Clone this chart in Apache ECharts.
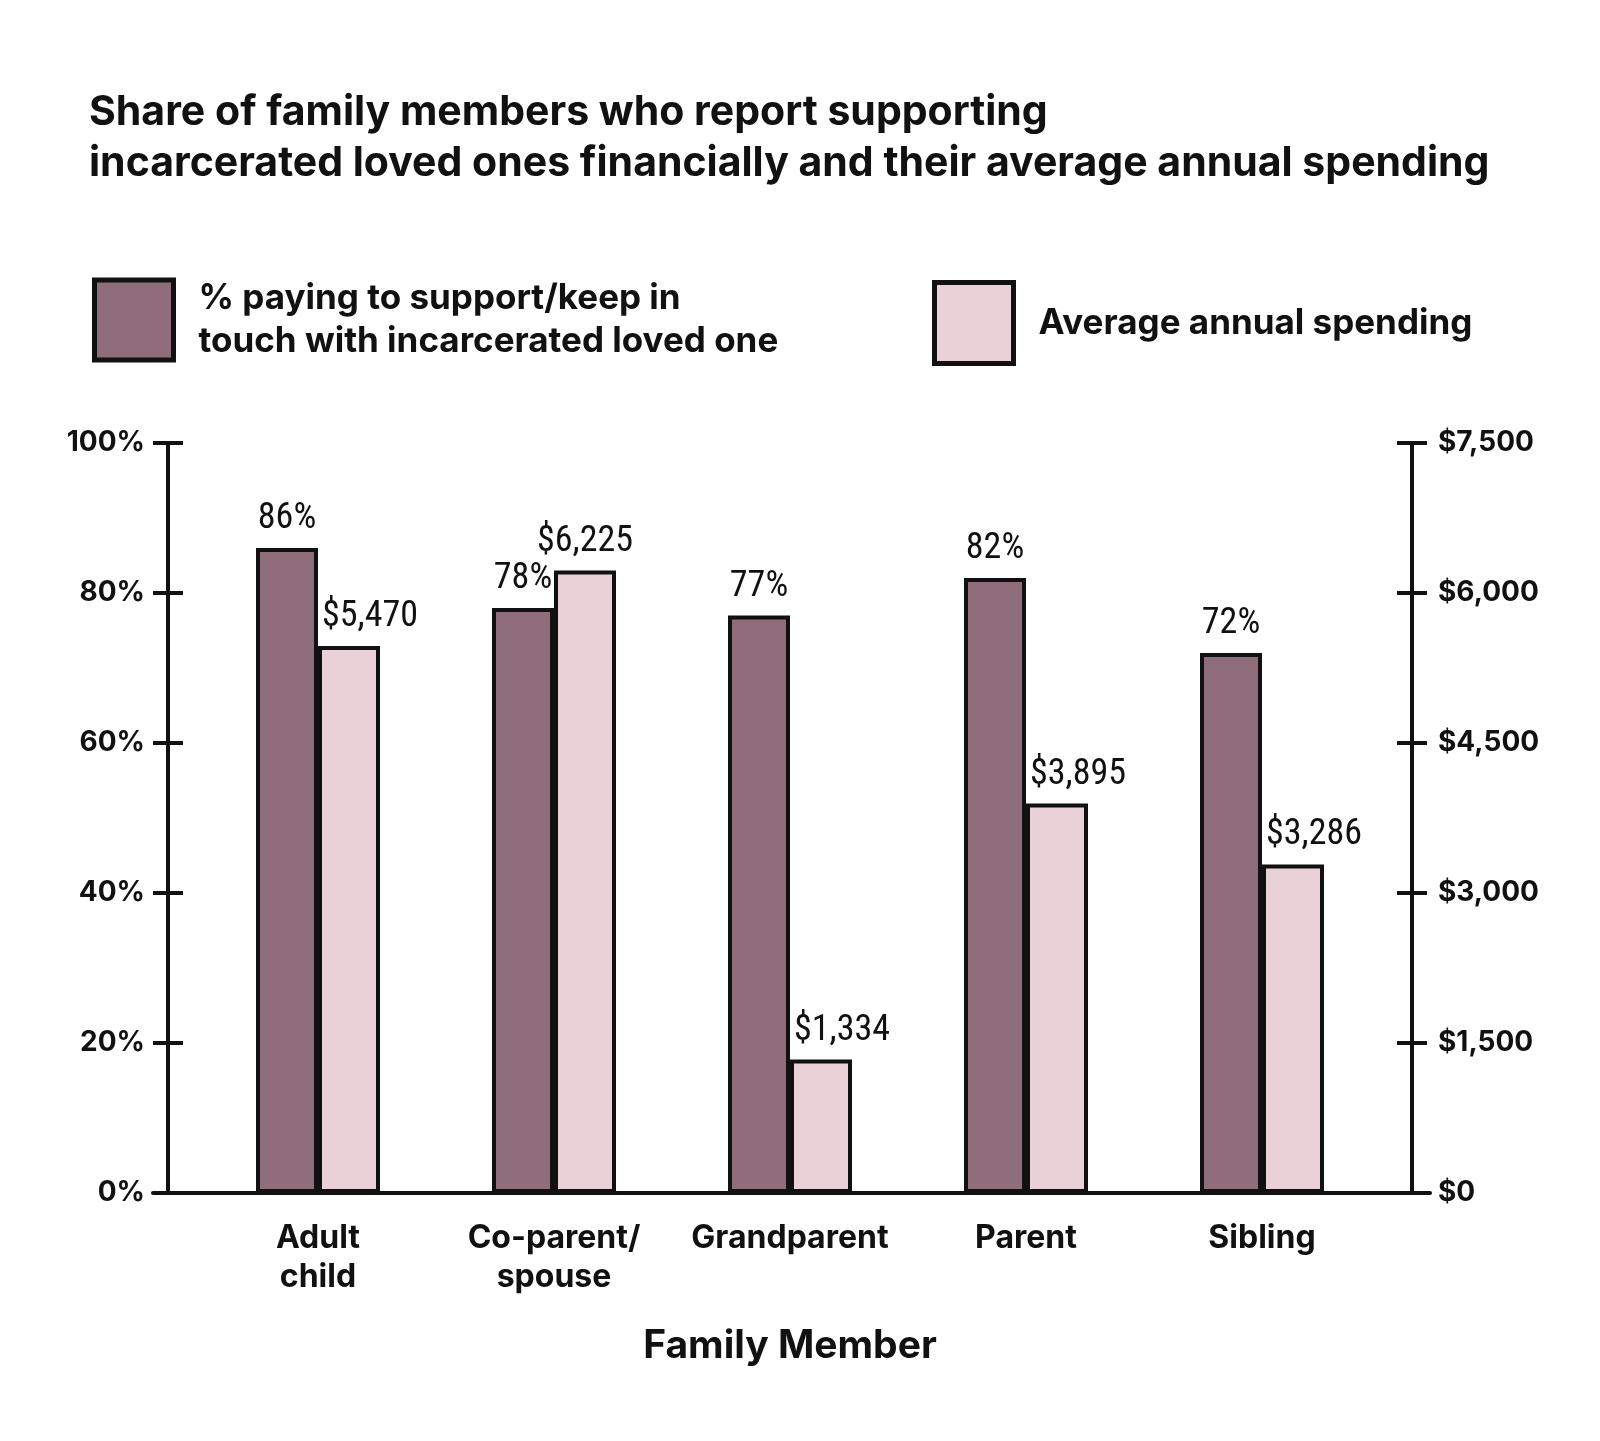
<!DOCTYPE html>
<html>
<head>
<meta charset="utf-8">
<script src="https://cdn.jsdelivr.net/npm/echarts@6/dist/echarts.min.js"></script>
<style>
html,body{margin:0;padding:0;background:#fff;}
#chart{width:1600px;height:1441px;}
</style>
</head>
<body>
<div id="chart"></div>
<script>
const titleText = 'Share of family members who report supporting\nincarcerated loved ones financially and their average annual spending';
const categories = ['Adult\nchild', 'Co-parent/\nspouse', 'Grandparent', 'Parent', 'Sibling'];
const shareName = '% paying to support/keep in\ntouch with incarcerated loved one';
const spendName = 'Average annual spending';
const sharePaying = [86, 78, 77, 82, 72];
const avgSpending = [5470, 6225, 1334, 3895, 3286];
const pctTicks = [0, 100, 20];
const dollarTicks = [0, 7500, 1500];

const MAIN_FONT = "Inter, Roboto, 'Noto Sans', sans-serif";
const NARROW_FONT = "'Roboto Condensed', 'Noto Sans Condensed', 'Liberation Sans Narrow', 'DejaVu Sans Condensed', sans-serif";
const DARK = '#906d7a';
const LIGHT = '#e9d1d7';

function money(v) { return '$' + v.toLocaleString('en-US'); }

const chart = echarts.init(document.getElementById('chart'));

const axisLabelStyle = { fontFamily: MAIN_FONT, fontWeight: 'bold', fontSize: 28, color: '#111' };
const lineStyle = { color: '#111', width: 4 };

// spending labels sit slightly right of their bars, except where the taller light bar leaves room
const spendData = avgSpending.map((v, i) =>
  v > sharePaying[i] / 100 * dollarTicks[1] ? v : { value: v, label: { offset: [21, 0] } });

chart.setOption({
  backgroundColor: '#fff',
  animation: false,
  title: {
    text: titleText,
    left: 84, top: 82,
    textStyle: { fontFamily: MAIN_FONT, fontWeight: 'bold', fontSize: 41, lineHeight: 51, color: '#111' }
  },
  legend: [
    {
      data: [shareName], left: 92, top: 277, padding: 0, itemWidth: 79, itemHeight: 80, icon: 'rect',
      itemStyle: { borderColor: '#111', borderWidth: 5 },
      textStyle: { fontFamily: MAIN_FONT, fontWeight: 'bold', fontSize: 35, lineHeight: 43, color: '#111', padding: [0, 0, 0, 20] }
    },
    {
      data: [spendName], left: 932, top: 280, padding: 0, itemWidth: 79, itemHeight: 81, icon: 'rect',
      itemStyle: { borderColor: '#111', borderWidth: 5 },
      textStyle: { fontFamily: MAIN_FONT, fontWeight: 'bold', fontSize: 35, lineHeight: 43, color: '#111', padding: [0, 0, 0, 20] }
    }
  ],
  grid: [
    { left: 200, right: 220, top: 443, bottom: 248 },
    { left: 153, right: 170, top: 443, bottom: 248 }
  ],
  xAxis: [
    {
      type: 'category', gridIndex: 0, data: categories,
      axisLine: { show: false }, axisTick: { show: false },
      axisLabel: { interval: 0, fontFamily: MAIN_FONT, fontWeight: 'bold', fontSize: 32, lineHeight: 39, color: '#111', margin: 26 },
      name: 'Family Member', nameLocation: 'middle', nameGap: 134,
      nameTextStyle: { fontFamily: MAIN_FONT, fontWeight: 'bold', fontSize: 39, color: '#111' }
    },
    {
      type: 'value', gridIndex: 1, min: 0, max: 1,
      axisLine: { show: true, lineStyle: lineStyle }, axisTick: { show: false },
      axisLabel: { show: false }, splitLine: { show: false }
    }
  ],
  yAxis: [
    {
      type: 'value', gridIndex: 0, position: 'left', offset: 32,
      min: pctTicks[0], max: pctTicks[1], interval: pctTicks[2],
      axisLine: { show: true, lineStyle: lineStyle },
      axisTick: { show: true, length: 15, lineStyle: lineStyle },
      axisLabel: Object.assign({ formatter: '{value}%', margin: 23 }, axisLabelStyle),
      splitLine: { show: false }
    },
    {
      type: 'value', gridIndex: 0, position: 'right', offset: 32,
      min: dollarTicks[0], max: dollarTicks[1], interval: dollarTicks[2],
      axisLine: { show: true, lineStyle: lineStyle },
      axisTick: { show: true, length: 15, lineStyle: lineStyle },
      axisLabel: Object.assign({ formatter: money, margin: 26 }, axisLabelStyle),
      splitLine: { show: false }
    },
    {
      type: 'value', gridIndex: 0, position: 'left', offset: 32,
      min: pctTicks[0], max: pctTicks[1], interval: pctTicks[2],
      axisLine: { show: false },
      axisTick: { show: true, inside: true, length: 15, lineStyle: lineStyle },
      axisLabel: { show: false }, splitLine: { show: false }
    },
    {
      type: 'value', gridIndex: 0, position: 'right', offset: 32,
      min: dollarTicks[0], max: dollarTicks[1], interval: dollarTicks[2],
      axisLine: { show: false },
      axisTick: { show: true, inside: true, length: 15, lineStyle: lineStyle },
      axisLabel: { show: false }, splitLine: { show: false }
    },
    {
      type: 'value', gridIndex: 1, min: 0, max: 1, show: false
    }
  ],
  series: [
    {
      name: shareName, type: 'bar', xAxisIndex: 0, yAxisIndex: 0,
      data: sharePaying, barWidth: 62, barGap: '0%',
      itemStyle: { color: DARK, borderColor: '#111', borderWidth: 4 },
      label: {
        show: true, position: 'top', distance: 11, formatter: p => p.value + '%',
        fontFamily: NARROW_FONT, fontSize: 36, color: '#111'
      }
    },
    {
      name: spendName, type: 'bar', xAxisIndex: 0, yAxisIndex: 1,
      data: spendData, barWidth: 62, barGap: '0%',
      itemStyle: { color: LIGHT, borderColor: '#111', borderWidth: 4 },
      label: {
        show: true, position: 'top', distance: 11, formatter: p => money(p.value),
        fontFamily: NARROW_FONT, fontSize: 36, color: '#111'
      }
    }
  ]
});
</script>
</body>
</html>
